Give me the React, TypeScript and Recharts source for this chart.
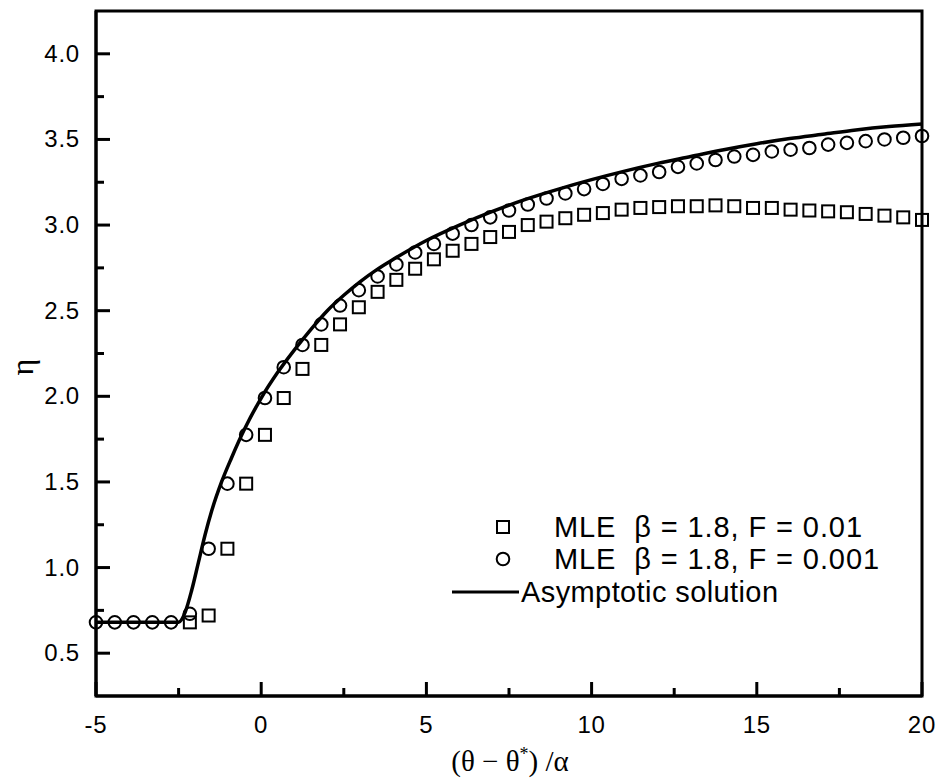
import React from 'react';
import { ComposedChart, Scatter, Line, XAxis, YAxis, ReferenceArea, Legend } from 'recharts';

// shared x grid of the MLE points, (θ − θ*)/α
const xGrid = [
  -5, -4.432, -3.864, -3.295, -2.727, -2.159, -1.591, -1.023, -0.455, 0.114,
  0.682, 1.25, 1.818, 2.386, 2.955, 3.523, 4.091, 4.659, 5.227, 5.795,
  6.364, 6.932, 7.5, 8.068, 8.636, 9.205, 9.773, 10.341, 10.909, 11.477,
  12.045, 12.614, 13.182, 13.75, 14.318, 14.886, 15.455, 16.023, 16.591, 17.159,
  17.727, 18.295, 18.864, 19.432, 20,
];

// MLE β = 1.8, F = 0.001 (circles), one value per grid point
const etaF0001 = [
  0.68, 0.68, 0.68, 0.68, 0.68, 0.73, 1.11, 1.49, 1.775, 1.99,
  2.17, 2.3, 2.42, 2.53, 2.62, 2.7, 2.77, 2.84, 2.89, 2.95,
  3.0, 3.045, 3.085, 3.12, 3.155, 3.185, 3.21, 3.24, 3.27, 3.29,
  3.31, 3.34, 3.36, 3.38, 3.4, 3.41, 3.43, 3.44, 3.45, 3.47,
  3.48, 3.49, 3.5, 3.51, 3.52,
];

// MLE β = 1.8, F = 0.01 (squares), starts at grid point 5
const squareStart = 5;
const etaF001 = [
  0.68, 0.72, 1.11, 1.49, 1.775, 1.99, 2.16, 2.3, 2.42, 2.52,
  2.61, 2.68, 2.745, 2.8, 2.85, 2.89, 2.93, 2.96, 3.0, 3.02,
  3.04, 3.06, 3.07, 3.09, 3.1, 3.105, 3.11, 3.11, 3.115, 3.11,
  3.1, 3.1, 3.09, 3.085, 3.08, 3.075, 3.065, 3.055, 3.045, 3.03,
];

// asymptotic solution
const asymX = [
  -5, -2.5, -2.3, -2.1, -1.9, -1.7, -1.5, -1.2, -0.9, -0.5,
  0, 0.5, 1, 1.5, 2, 2.5, 3, 3.5, 4, 5,
  6, 7, 8, 9, 10, 11, 12, 13, 14, 15,
  16, 17, 18, 19, 20,
];
const asymEta = [
  0.68, 0.68, 0.74, 0.87, 1.03, 1.19, 1.33, 1.5, 1.64, 1.81,
  1.99, 2.14, 2.27, 2.39, 2.5, 2.59, 2.67, 2.74, 2.8, 2.91,
  3.0, 3.08, 3.15, 3.21, 3.265, 3.315, 3.36, 3.4, 3.44, 3.475,
  3.505, 3.53, 3.555, 3.575, 3.59,
];

const xTicks = [-5, -2.5, 0, 2.5, 5, 7.5, 10, 12.5, 15, 17.5, 20];
const xLabels = [-5, 0, 5, 10, 15, 20];
const yTicks = [0.5, 0.75, 1, 1.25, 1.5, 1.75, 2, 2.25, 2.5, 2.75, 3, 3.25, 3.5, 3.75, 4];
const yLabels = [0.5, 1, 1.5, 2, 2.5, 3, 3.5, 4];

const legendItems = [
  'MLE  β = 1.8, F = 0.01',
  'MLE  β = 1.8, F = 0.001',
  'Asymptotic solution',
];

const circles = xGrid.map((x, i) => ({ x, y: etaF0001[i] }));
const squares = etaF001.map((y, i) => ({ x: xGrid[i + squareStart], y }));
const asym = asymX.map((x, i) => ({ x, y: asymEta[i] }));

const sans = '"Liberation Sans", Arial, sans-serif';
const serif = '"Liberation Serif", "Times New Roman", serif';

function XTick(props: any) {
  const { x, y, payload } = props;
  const major = xLabels.includes(payload.value);
  return (
    <g>
      <line x1={x} y1={y} x2={x} y2={y - (major ? 14 : 8)} stroke="#000" strokeWidth={3} />
      {major && (
        <text x={x} y={y + 37} textAnchor="middle" fontSize={24} fontFamily={sans} letterSpacing={0.8} fill="#000">
          {payload.value}
        </text>
      )}
    </g>
  );
}

function YTick(props: any) {
  const { x, y, payload } = props;
  const major = yLabels.includes(payload.value);
  return (
    <g>
      <line x1={x} y1={y} x2={x + (major ? 14 : 8)} y2={y} stroke="#000" strokeWidth={3} />
      {major && (
        <text x={x - 16} y={y + 8} textAnchor="end" fontSize={24} fontFamily={sans} letterSpacing={0.8} fill="#000">
          {payload.value.toFixed(1)}
        </text>
      )}
    </g>
  );
}

const SquareDot = (p: any) => (
  <rect x={p.cx - 6} y={p.cy - 6} width={12} height={12} fill="none" stroke="#000" strokeWidth={2} />
);
const CircleDot = (p: any) => <circle cx={p.cx} cy={p.cy} r={6.3} fill="none" stroke="#000" strokeWidth={2} />;

function LegendBox() {
  const rowTop = [6, 38, 71];
  return (
    <div style={{ position: 'relative', width: 470, height: 110, fontFamily: sans, fontSize: 29, color: '#000' }}>
      {legendItems.map((label, i) => (
        <div key={label} style={{ position: 'absolute', left: 0, top: rowTop[i], height: 32, width: 470 }}>
          <svg width={72} height={32} style={{ position: 'absolute', left: 0, top: 0 }}>
            {i === 0 && <rect x={47} y={10} width={12} height={12} fill="none" stroke="#000" strokeWidth={2} />}
            {i === 1 && <circle cx={53} cy={16} r={6.3} fill="none" stroke="#000" strokeWidth={2} />}
            {i === 2 && <line x1={2} y1={16} x2={69} y2={16} stroke="#000" strokeWidth={3} />}
          </svg>
          <span
            style={{
              position: 'absolute',
              left: i === 2 ? 71 : 104,
              top: 0,
              lineHeight: '32px',
              whiteSpace: 'pre',
              letterSpacing: i === 2 ? 0.4 : 0.9,
            }}
          >
            {label}
          </span>
        </div>
      ))}
    </div>
  );
}

export default function App() {
  return (
    <div style={{ position: 'absolute', left: 0, top: 0, background: '#fff' }}>
      <ComposedChart width={940} height={779} margin={{ top: 11, right: 18, bottom: 0, left: 0 }}>
        <XAxis
          dataKey="x"
          type="number"
          domain={[-5, 20]}
          ticks={xTicks}
          interval={0}
          height={83}
          tickSize={0}
          tickMargin={0}
          tickLine={false}
          tick={<XTick />}
          axisLine={{ stroke: '#000', strokeWidth: 3 }}
          label={{
            content: () => (
              <text x={510} y={771} textAnchor="middle" fontSize={29} fontFamily={serif} fill="#000">
                (θ − θ<tspan dy={-11} fontSize={18}>*</tspan>
                <tspan dy={11}>) /α</tspan>
              </text>
            ),
          }}
        />
        <YAxis
          dataKey="y"
          type="number"
          domain={[0.25, 4.25]}
          ticks={yTicks}
          interval={0}
          width={96}
          tickSize={0}
          tickMargin={0}
          tickLine={false}
          tick={<YTick />}
          axisLine={{ stroke: '#000', strokeWidth: 3 }}
          label={{
            content: () => (
              <text x={33} y={367} textAnchor="middle" fontSize={32} fontFamily={serif} fill="#000" transform="rotate(-90 33 367)">
                η
              </text>
            ),
          }}
        />
        <ReferenceArea x1={-5} x2={20} y1={0.25} y2={4.25} fill="none" stroke="#000" strokeWidth={3} />
        <Scatter name="F = 0.01" data={squares} shape={SquareDot} isAnimationActive={false} />
        <Scatter name="F = 0.001" data={circles} shape={CircleDot} isAnimationActive={false} />
        <Line
          name="Asymptotic solution"
          data={asym}
          dataKey="y"
          type="monotone"
          stroke="#000"
          strokeWidth={3.5}
          dot={false}
          activeDot={false}
          isAnimationActive={false}
        />
        <Legend
          layout="horizontal"
          verticalAlign="middle"
          align="center"
          content={() => <LegendBox />}
          wrapperStyle={{ left: 450, top: 505, width: 470 }}
        />
      </ComposedChart>
    </div>
  );
}
